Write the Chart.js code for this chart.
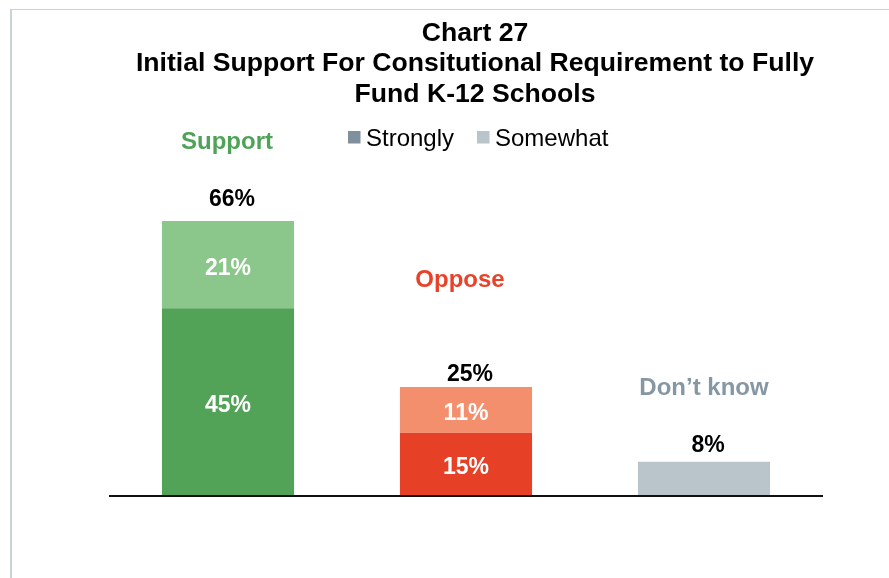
<!DOCTYPE html>
<html>
<head>
<meta charset="utf-8">
<script src="https://cdn.jsdelivr.net/npm/chart.js@4/dist/chart.umd.min.js"></script>
<style>
  html, body { margin: 0; padding: 0; background: #ffffff; }
  #wrap { position: relative; width: 889px; height: 578px; overflow: hidden; }
  #frame { position: absolute; left: 10px; top: 9px; right: -10px; bottom: -10px;
           border-left: 2px solid #c9d1d9; border-top: 1px solid #c9d1d9; pointer-events: none; }
  canvas { position: absolute; left: 0; top: 0; }
</style>
</head>
<body>
<div id="wrap">
  <canvas id="chart" width="889" height="578"></canvas>
  <div id="frame"></div>
</div>
<script>
// Survey answers by group
const categories = ['Support', 'Oppose', 'Don\u2019t know'];
const strongly = [45, 15, null];
const somewhat = [21, 11, null];
const dontKnow = [null, null, 8];
const totals = [66, 25, 8];

const titleLines = ['Chart 27', 'Initial Support For Consitutional Requirement to Fully', 'Fund K-12 Schools'];
const legendNames = ['Strongly', 'Somewhat'];

const FONT = '"Liberation Sans", Arial, Helvetica, sans-serif';

const strongColors = ['#52a357', '#e64027', '#b9c4cb'];
const softColors = ['#8bc68a', '#f48f6e', '#b9c4cb'];
const headerColors = ['#4fa358', '#e8432a', '#8697a4'];
const legendColors = ['#7f8f9b', '#b9c4cb'];

const annotate = {
  id: 'annotate',
  afterDatasetsDraw(chart) {
    const ctx = chart.ctx;
    const area = chart.chartArea;
    const y = chart.scales.y;
    ctx.save();

    // baseline
    const y0 = Math.round(y.getPixelForValue(0));
    ctx.fillStyle = '#111111';
    ctx.fillRect(area.left, y0, area.right - area.left, 2);

    // title
    ctx.fillStyle = '#000000';
    ctx.textAlign = 'center';
    ctx.textBaseline = 'alphabetic';
    ctx.font = 'bold 26.6px ' + FONT;
    const titleBase = [41, 71, 102];
    titleLines.forEach((t, i) => ctx.fillText(t, 475, titleBase[i]));

    // legend
    ctx.font = '24px ' + FONT;
    ctx.textAlign = 'left';
    const legendX = [348, 477];
    legendNames.forEach((name, i) => {
      ctx.fillStyle = legendColors[i];
      ctx.fillRect(legendX[i], 131, 12.5, 12.5);
      ctx.fillStyle = '#000000';
      ctx.fillText(name, legendX[i] + 18, 145.5);
    });

    // segment values
    ctx.textAlign = 'center';
    ctx.font = 'bold 23px ' + FONT;
    ctx.fillStyle = '#ffffff';
    [0, 1].forEach(di => {
      const meta = chart.getDatasetMeta(di);
      meta.data.forEach((bar, i) => {
        const v = chart.data.datasets[di].data[i];
        if (v == null) return;
        const mid = (bar.y + bar.base) / 2;
        ctx.fillText(v + '%', bar.x, mid + 10);
      });
    });

    // totals and group headers above each bar
    const totalGap = [15, 6, 10];
    const headerGap = [72, 100, 67];
    const xMeta = chart.getDatasetMeta(0);
    categories.forEach((c, i) => {
      const x = xMeta.data[i].x;
      let top = y0;
      chart.data.datasets.forEach((ds, di) => {
        const el = chart.getDatasetMeta(di).data[i];
        if (ds.data[i] != null) top = Math.min(top, el.y);
      });
      ctx.fillStyle = '#000000';
      ctx.font = 'bold 23px ' + FONT;
      ctx.fillText(totals[i] + '%', x + 4, top - totalGap[i]);
      ctx.fillStyle = headerColors[i];
      ctx.font = 'bold 24px ' + FONT;
      ctx.fillText(c, x - (i === 0 ? 1 : (i === 1 ? 6 : 0)), top - headerGap[i]);
    });

    ctx.restore();
  }
};

new Chart(document.getElementById('chart'), {
  type: 'bar',
  data: {
    labels: categories,
    datasets: [
      { label: legendNames[0], data: strongly, backgroundColor: strongColors },
      { label: legendNames[1], data: somewhat, backgroundColor: softColors },
      { label: categories[2], data: dontKnow, backgroundColor: strongColors[2] }
    ]
  },
  options: {
    responsive: false,
    animation: false,
    events: [],
    layout: { padding: { left: 109, right: 66, top: 163, bottom: 83 } },
    datasets: { bar: { categoryPercentage: 1, barPercentage: 0.555, borderWidth: 0 } },
    scales: {
      x: { display: false, stacked: true },
      y: { display: false, stacked: true, min: 0, max: 80 }
    },
    plugins: { legend: { display: false }, tooltip: { enabled: false }, title: { display: false } }
  },
  plugins: [annotate]
});
</script>
</body>
</html>
